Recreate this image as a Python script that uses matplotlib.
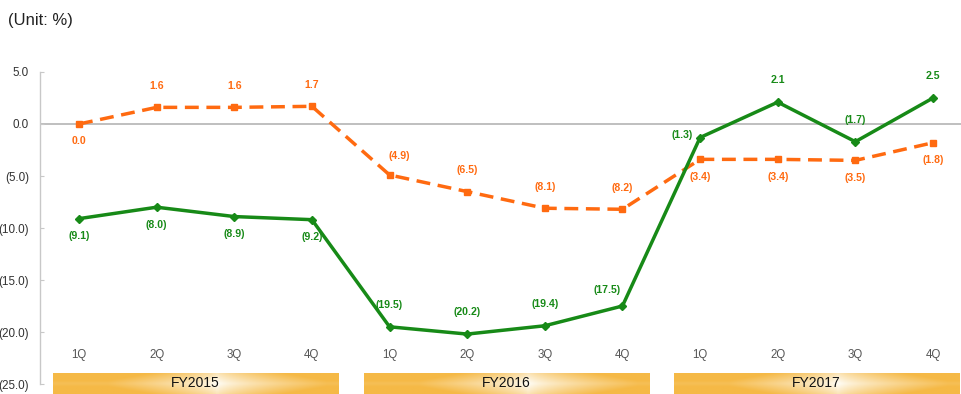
import numpy as np
import matplotlib
matplotlib.use("Agg")
import matplotlib.pyplot as plt

plt.rcParams["font.family"] = ["Liberation Sans", "DejaVu Sans"]

quarters = ["1Q", "2Q", "3Q", "4Q"] * 3
years = ["FY2015", "FY2016", "FY2017"]
green_vals = [-9.1, -8.0, -8.9, -9.2, -19.5, -20.2, -19.4, -17.5, -1.3, 2.1, -1.7, 2.5]
orange_vals = [0.0, 1.6, 1.6, 1.7, -4.9, -6.5, -8.1, -8.2, -3.4, -3.4, -3.5, -1.8]
y_ticks = [5, 0, -5, -10, -15, -20, -25]

# label placement offsets (px): above / below / left / above-left
green_pos = ["b", "b", "b", "b", "a", "a", "a", "al", "l", "a", "a", "a"]
orange_pos = ["b", "a", "a", "a", "ar", "a", "a", "a", "b", "b", "b", "b"]

GREEN = "#178a17"
ORANGE = "#ff6a10"

def fmt(v):
    return f"({abs(v):.1f})" if v < 0 else f"{v:.1f}"

W, H = 961, 394
fig = plt.figure(figsize=(W / 100, H / 100), dpi=100)
fig.patch.set_facecolor("white")
ax = fig.add_axes([40 / W, (H - 384) / H, (W - 40) / W, (384 - 72) / H])
ax.set_facecolor("white")

x = np.arange(len(green_vals))
px_per_unit = 77.64
XL = (-(79 - 40) / px_per_unit, 11 + (W - 933) / px_per_unit)
ax.set_xlim(*XL)
ax.set_ylim(-25, 5)

ax.axhline(0, color="#b4b4b4", lw=1.2, zorder=1)

ax.plot(x, orange_vals, color=ORANGE, lw=2.5, ls=(0, (4, 2.2)), marker="s", ms=4, zorder=3)
ax.plot(x, green_vals, color=GREEN, lw=2.5, marker="D", ms=4, zorder=4)

OFFS = {
    "a": ((0, 12), "center", "bottom"),
    "ar": ((7, 10), "center", "bottom"),
    "b": ((0, -9), "center", "top"),
    "l": ((-5, 2), "right", "center"),
    "al": ((-11, 8), "center", "bottom"),
}

def annotate(vals, pos, color):
    for xi, v, p in zip(x, vals, pos):
        off, ha, va = OFFS[p]
        ax.annotate(fmt(v), (xi, v), xytext=off, textcoords="offset points",
                    ha=ha, va=va, fontsize=7.6, fontweight="bold", color=color, zorder=6)

annotate(green_vals, green_pos, GREEN)
annotate(orange_vals, orange_pos, ORANGE)

# y axis styling
for s in ["top", "right", "bottom"]:
    ax.spines[s].set_visible(False)
ax.spines["left"].set_color("#c8c8c8")
ax.spines["left"].set_linewidth(1.0)
ax.set_yticks(y_ticks)
ax.set_yticklabels([fmt(v) for v in y_ticks], fontsize=8.4, color="#333333")
ax.tick_params(axis="y", direction="in", length=3, color="#c8c8c8", pad=8)
ax.set_xticks([])

# quarter labels
for xi, q in zip(x, quarters):
    ax.text(xi, -22.2, q, ha="center", va="center", fontsize=8.3, color="#555555")

# FY bars with gradient
hx = np.linspace(-1, 1, 200)
row = np.clip(np.abs(hx - 0.15) * 1.3, 0, 1) ** 0.7
vy = np.linspace(-1, 1, 20)[:, None]
mix = np.clip(row[None, :] * 0.9 + np.abs(vy) * 0.35, 0, 1)
c_edge = np.array([245, 185, 70]) / 255.0
c_mid = np.array([255, 255, 252]) / 255.0
img = c_mid[None, None, :] * (1 - mix[..., None]) + c_edge[None, None, :] * mix[..., None]

for i, yr in enumerate(years):
    cx = 1.5 + 4 * i
    x0, x1 = cx - 1.83, cx + 1.85
    y0, y1 = -25.96, -24.0
    ax.imshow(img, extent=[x0, x1, y0, y1], aspect="auto", zorder=2, clip_on=False)
    ax.text(cx, -24.95, yr, ha="center", va="center", fontsize=10, color="#111111",
            zorder=5, clip_on=False)

ax.set_ylim(-25, 5)
ax.set_xlim(*XL)

fig.text(8 / W, 1 - 20 / H, "(Unit: %)", fontsize=12, color="#222222", ha="left", va="center")

fig.savefig("out.png", dpi=100, facecolor="white")
